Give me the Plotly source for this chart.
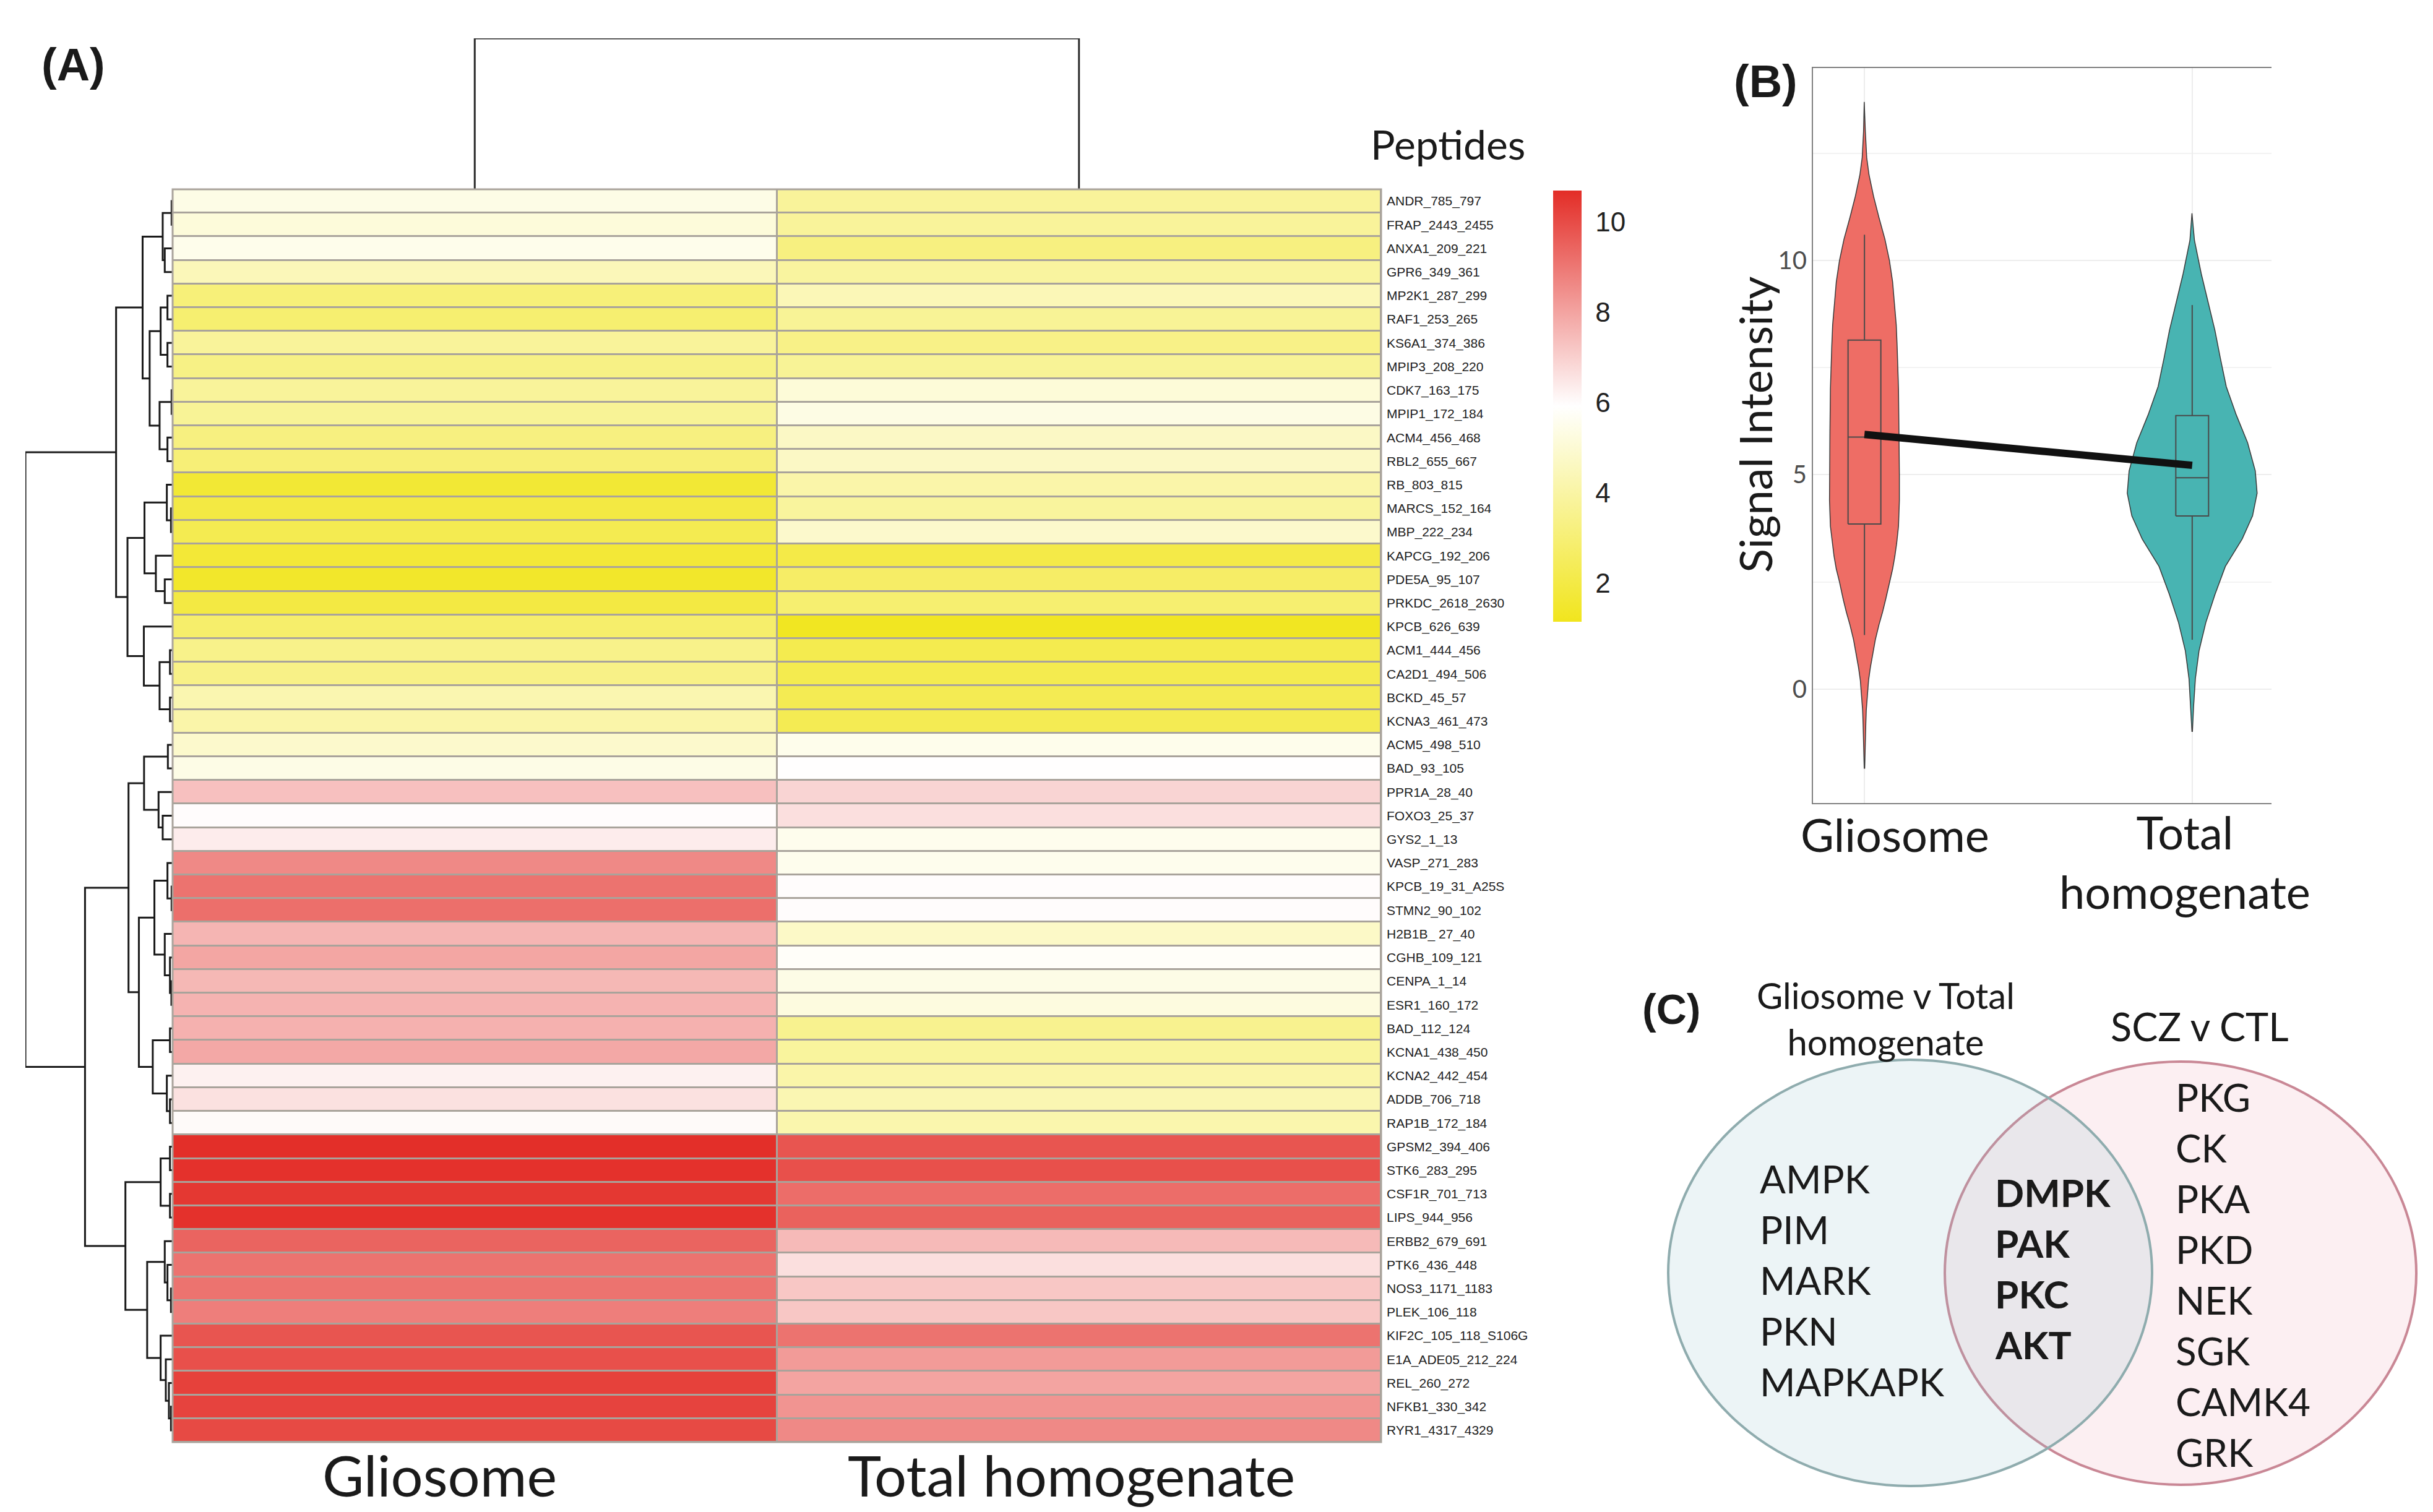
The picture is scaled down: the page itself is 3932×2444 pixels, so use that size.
import plotly.graph_objects as go

W, H = 3932, 2444

# ---------------- data ----------------
peptides = [
    "ANDR_785_797", "FRAP_2443_2455", "ANXA1_209_221", "GPR6_349_361", "MP2K1_287_299",
    "RAF1_253_265", "KS6A1_374_386", "MPIP3_208_220", "CDK7_163_175", "MPIP1_172_184",
    "ACM4_456_468", "RBL2_655_667", "RB_803_815", "MARCS_152_164", "MBP_222_234",
    "KAPCG_192_206", "PDE5A_95_107", "PRKDC_2618_2630", "KPCB_626_639", "ACM1_444_456",
    "CA2D1_494_506", "BCKD_45_57", "KCNA3_461_473", "ACM5_498_510", "BAD_93_105",
    "PPR1A_28_40", "FOXO3_25_37", "GYS2_1_13", "VASP_271_283", "KPCB_19_31_A25S",
    "STMN2_90_102", "H2B1B_ 27_40", "CGHB_109_121", "CENPA_1_14", "ESR1_160_172",
    "BAD_112_124", "KCNA1_438_450", "KCNA2_442_454", "ADDB_706_718", "RAP1B_172_184",
    "GPSM2_394_406", "STK6_283_295", "CSF1R_701_713", "LIPS_944_956", "ERBB2_679_691",
    "PTK6_436_448", "NOS3_1171_1183", "PLEK_106_118", "KIF2C_105_118_S106G",
    "E1A_ADE05_212_224", "REL_260_272", "NFKB1_330_342", "RYR1_4317_4329",
]
columns = ["Gliosome", "Total homogenate"]

gliosome = [5.4, 5.15, 5.5, 4.45, 3.1, 2.9, 3.8, 3.35, 3.8, 3.7,
            3.25, 3.05, 1.65, 1.95, 2.25, 1.7, 1.45, 1.95, 2.8, 3.45,
            3.4, 4.25, 4.1, 4.85, 5.4,
            7.35,
            6.0, 6.35, 8.6, 9.1, 9.2, 7.6, 7.95, 7.55, 7.65, 7.7,
            7.9, 6.25, 6.6, 6.05,
            10.65, 10.6, 10.45, 10.6, 9.45, 9.1, 9.1, 8.85, 9.8, 9.9,
            10.25, 10.2, 10.05]
total_homogenate = [3.8, 3.8, 3.25, 3.9, 4.4, 3.7, 3.4, 3.7, 5.1, 5.35,
                    4.7, 4.7, 4.1, 3.85, 4.85, 2.05, 2.7, 2.9, 1.25, 2.2,
                    2.2, 2.3, 2.3, 5.5, 5.95,
                    6.9,
                    6.65, 5.55, 5.55, 6.0, 6.0, 4.75, 5.8, 5.4, 5.25, 3.55,
                    3.85, 4.1, 4.3, 4.2,
                    9.8, 9.9, 9.25, 9.5, 7.5, 6.65, 7.2, 7.2, 9.1, 8.2,
                    8.0, 8.35, 8.6]

# row clustering tree: (left, right, merge height); leaves are row indices
row_tree = (
    (
        (((0, 1, 2), (2, 3, 35), 45),
         (((4, 5, 22), (6, 7, 22), 55), ((8, 9, 2), (10, 11, 22), 60), 108),
         142),
        (((12, (13, 14, 5), 25), (15, (16, 17, 35), 78), 133),
         (18, ((19, 20, 10), (21, 22, 10), 60), 136),
         215),
        270),
    (
        (((23, 24, 20), (25, (26, 27, 45), 65), 135),
         (((28, (29, 30, 2), 22), (31, (32, (33, 34, 3), 10), 35), 85),
          ((35, 36, 10), (37, (38, 39, 10), 25), 93),
          160),
         210),
        (((40, 41, 10), (42, 43, 10), 55),
         ((44, (45, (46, 47, 5), 22), 35), (48, (49, (50, (51, 52, 5), 15), 30), 55), 120),
         225),
        420),
    708)
col_tree = (0, 1, 1.0)

cbar_ticks = [2, 4, 6, 8, 10]
z_min, z_max = 1.15, 10.7

# violin profiles (value, half width in category units)
glio_violin_y = [-1.86, -1.3, -0.8, -0.5, -0.16, 0.2, 0.5, 0.8, 1.15, 1.5, 1.8, 2.1, 2.5, 2.8,
                 3.1, 3.4, 3.8, 4.4, 5.0, 6.0, 7.0, 8.0, 8.5, 9.0, 9.5, 10.0, 10.5, 11.0,
                 11.5, 12.0, 12.4, 13.0, 13.7]
glio_violin_w = [0.0007, 0.002, 0.0042, 0.0055, 0.0083, 0.0125, 0.018, 0.025, 0.0332, 0.0443,
                 0.0554, 0.065, 0.0762, 0.0859, 0.0928, 0.0983, 0.1039, 0.1066, 0.1066, 0.1053,
                 0.1039, 0.0997, 0.097, 0.0914, 0.0859, 0.0762, 0.0623, 0.0443, 0.0277, 0.0139,
                 0.0069, 0.0028, 0.0007]
total_violin_y = [-1.0, -0.42, 0.24, 0.89, 1.55, 2.2, 2.86, 3.5, 4.04, 4.57, 5.09, 5.75, 6.4,
                  7.06, 7.72, 8.37, 9.03, 9.69, 10.47, 11.1]
total_violin_w = [0.0007, 0.0042, 0.0097, 0.0208, 0.0416, 0.0693, 0.1011, 0.1524, 0.1842,
                  0.1981, 0.1925, 0.169, 0.1343, 0.1039, 0.0859, 0.0693, 0.0485, 0.0277,
                  0.0069, 0.0007]
box_q1 = [3.85, 4.04]
box_median = [5.88, 4.93]
box_q3 = [8.14, 6.38]
box_lower = [1.26, 1.15]
box_upper = [10.6, 8.96]
group_means = [5.94, 5.22]
violin_groups = ["Gliosome", "Total", "homogenate"]
violin_yticks = [0, 5, 10]
violin_minor = [2.5, 7.5, 12.5]

venn_left_title = ["Gliosome v Total", "homogenate"]
venn_right_title = "SCZ v CTL"
venn_left_only = ["AMPK", "PIM", "MARK", "PKN", "MAPKAPK"]
venn_shared = ["DMPK", "PAK", "PKC", "AKT"]
venn_right_only = ["PKG", "CK", "PKA", "PKD", "NEK", "SGK", "CAMK4", "GRK"]

# ---------------- helpers ----------------
def px(x):
    return x / W


def py(y):
    return 1 - y / H


def dendro(node, a, b):
    if isinstance(node, int):
        return float(node), 0.0
    l, r, h = node
    pl, hl = dendro(l, a, b)
    pr, hr = dendro(r, a, b)
    a += [hl, h, h, hr, None]
    b += [pl, pl, pr, pr, None]
    return (pl + pr) / 2, h


YELLOW, RED = "#F1E51D", "#E32D27"
LAB = "Liberation Sans"
LATO = "Lato"

fig = go.Figure()

# heatmap
z = [[g, t] for g, t in zip(gliosome, total_homogenate)]
fig.add_trace(go.Heatmap(
    z=z, x=[0, 1], y=list(range(len(peptides))),
    zmin=z_min, zmax=z_max,
    colorscale=[[0, YELLOW], [0.5, "#FFFFFF"], [1, RED]],
    xgap=3, ygap=3,
    colorbar=dict(x=px(2510), xanchor="left", y=py((308 + 1005) / 2), yanchor="middle",
                  len=(1005 - 308) / H, lenmode="fraction", thickness=46,
                  outlinewidth=0, tickvals=cbar_ticks, ticks="outside", ticklen=14,
                  tickcolor="rgba(0,0,0,0)",
                  tickfont=dict(family=LAB, size=44, color="#222"), xpad=0, ypad=0),
    xaxis="x", yaxis="y", hoverinfo="skip"))

# row dendrogram
rx, ry = [], []
dendro(row_tree, rx, ry)
fig.add_trace(go.Scatter(x=rx, y=ry, mode="lines", line=dict(color="#1A1A1A", width=3),
                         xaxis="x2", yaxis="y2", showlegend=False, hoverinfo="skip",
                         cliponaxis=False))
# column dendrogram
ch, cp = [], []
dendro(col_tree, ch, cp)
fig.add_trace(go.Scatter(x=cp, y=ch, mode="lines", line=dict(color="#2A2A2A", width=3),
                         xaxis="x3", yaxis="y3", showlegend=False, hoverinfo="skip",
                         cliponaxis=False))

# violins
for c, vy, vw, col in [(0, glio_violin_y, glio_violin_w, "#EE6D65"),
                       (1, total_violin_y, total_violin_w, "#48B4B2")]:
    xs = [c + w for w in vw] + [c - w for w in reversed(vw)]
    ys = list(vy) + list(reversed(vy))
    fig.add_trace(go.Scatter(x=xs, y=ys, mode="lines", fill="toself", fillcolor=col,
                             line=dict(color="#3A3A3A", width=1.5),
                             xaxis="x4", yaxis="y4", showlegend=False, hoverinfo="skip"))

# boxplots drawn from the quartile statistics
BW = 0.05
for c in range(2):
    q1, md, q3 = box_q1[c], box_median[c], box_q3[c]
    lo, hi = box_lower[c], box_upper[c]
    bx = [c - BW, c + BW, c + BW, c - BW, c - BW, None,
          c - BW, c + BW, None, c, c, None, c, c]
    by = [q1, q1, q3, q3, q1, None, md, md, None, q3, hi, None, q1, lo]
    fig.add_trace(go.Scatter(x=bx, y=by, mode="lines",
                             line=dict(color="#4A4A4A", width=2),
                             xaxis="x4", yaxis="y4", showlegend=False, hoverinfo="skip"))

fig.add_trace(go.Scatter(x=[0, 1], y=group_means, mode="lines",
                         line=dict(color="#111111", width=12),
                         xaxis="x4", yaxis="y4", showlegend=False, hoverinfo="skip"))

# ---------------- layout ----------------
hx = [px(279), px(2232)]
hy = [py(2331), py(306)]
nrow = len(peptides)

fig.update_layout(
    width=W, height=H, autosize=False,
    margin=dict(l=0, r=0, t=0, b=0),
    paper_bgcolor="white", plot_bgcolor="white",
    showlegend=False,
    xaxis=dict(domain=hx, range=[-0.5, 1.5], showticklabels=False, showgrid=False,
               zeroline=False, anchor="y"),
    yaxis=dict(domain=hy, range=[nrow - 0.5, -0.5], side="right", anchor="x",
               tickvals=list(range(nrow)), ticktext=peptides, ticks="",
               ticklabelstandoff=8, showgrid=False, zeroline=False,
               tickfont=dict(family=LAB, size=21, color="#222")),
    xaxis2=dict(domain=[px(41), px(278)], range=[row_tree[2], 0], visible=False, anchor="y2"),
    yaxis2=dict(domain=hy, range=[nrow - 0.5, -0.5], visible=False, anchor="x2"),
    xaxis3=dict(domain=hx, range=[-0.5, 1.5], visible=False, anchor="y3"),
    yaxis3=dict(domain=[py(306), py(62)], range=[0, col_tree[2]], visible=False, anchor="x3"),
    xaxis4=dict(domain=[px(2930), px(3671)], range=[-0.157, 1.242], anchor="y4",
                type="linear", tickvals=[0, 1], showticklabels=False, ticks="",
                showgrid=True, gridcolor="#EDEDED", gridwidth=2, zeroline=False,
                showline=True, linecolor="#808080", linewidth=2, mirror=True),
    yaxis4=dict(domain=[py(1298), py(110)], range=[-2.66, 14.49], anchor="x4",
                tickvals=violin_yticks, ticks="", showgrid=True, gridcolor="#EDEDED",
                gridwidth=2, zeroline=False, showline=True, linecolor="#808080",
                linewidth=2, tickfont=dict(family=LATO, size=40, color="#4D4D4D"),
                minor=dict(tickvals=violin_minor, showgrid=True, gridcolor="#F3F3F3",
                           gridwidth=2)),
)

shapes = [
    dict(type="rect", xref="x domain", yref="y domain", x0=0, x1=1, y0=0, y1=1,
         fillcolor="#A9A39B", line=dict(width=0), layer="below"),
    dict(type="rect", xref="x domain", yref="y domain", x0=0, x1=1, y0=0, y1=1,
         fillcolor="rgba(0,0,0,0)", line=dict(color="#A9A39B", width=3), layer="above"),
    # Venn ellipses
    dict(type="circle", xref="paper", yref="paper", x0=px(3143), x1=px(3905),
         y0=py(2400), y1=py(1716), fillcolor="rgba(235,150,165,0.15)",
         line=dict(color="#C98795", width=4), layer="below"),
    dict(type="circle", xref="paper", yref="paper", x0=px(2696), x1=px(3478),
         y0=py(2402), y1=py(1713), fillcolor="rgba(150,195,205,0.18)",
         line=dict(color="#8FACAE", width=4), layer="below"),
]
fig.update_layout(shapes=shapes)

ann = []


def text(x, y, s, size, family=LATO, bold=False, xanchor="center", angle=0, color="#1A1A1A"):
    ann.append(dict(x=x, y=y, xref="paper", yref="paper", text=(f"<b>{s}</b>" if bold else s),
                    showarrow=False, xanchor=xanchor, yanchor="middle", textangle=angle,
                    font=dict(family=family, size=size, color=color)))


# panel labels
text(px(118), py(105), "(A)", 74, family=LAB, bold=True)
text(px(2853), py(132), "(B)", 74, family=LAB, bold=True)
text(px(2701), py(1631), "(C)", 68, family=LAB, bold=True)
# heatmap labels
text(px(2340), py(233), "Peptides", 66)
text(px(710), py(2383), columns[0], 92)
text(px(1731), py(2383), columns[1], 92)
# violin labels
text(px(2836), py(687), "Signal Intensity", 72, angle=-90)
text(px(3062), py(1348), violin_groups[0], 74)
text(px(3531), py(1392), violin_groups[1] + "<br>" + violin_groups[2], 74)
# venn titles
text(px(3047), py(1646), "<br>".join(venn_left_title), 58)
text(px(3555), py(1658), venn_right_title, 63)
# venn contents
step = 82
for i, s in enumerate(venn_left_only):
    text(px(2842), py(1905 + i * step), s, 62, xanchor="left")
for i, s in enumerate(venn_shared):
    text(px(3222), py(1927 + i * step), s, 62, bold=True, xanchor="left")
for i, s in enumerate(venn_right_only):
    text(px(3514), py(1773 + i * step), s, 62, xanchor="left")

fig.update_layout(annotations=ann)

fig.write_html("out.html", config={"displayModeBar": False},
               post_script="document.body.style.margin='0px';")
